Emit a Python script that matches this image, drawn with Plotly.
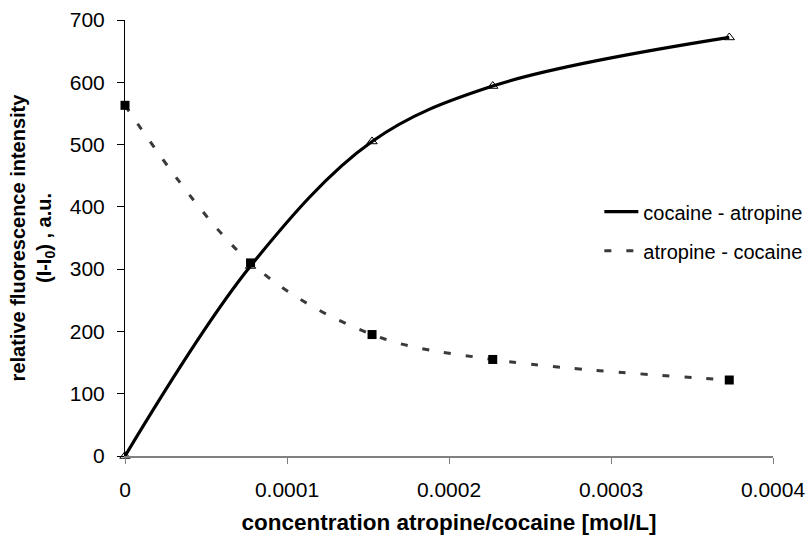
import plotly.graph_objects as go

# concentration [mol/L]
conc = [0.0, 0.0000775, 0.0001525, 0.000227, 0.000373]
# cocaine - atropine (open triangles, solid line)
coc_atr = [0, 305, 505, 594, 672]
# atropine - cocaine (filled squares, dashed line)
atr_coc = [563, 310, 195, 155, 122]

x_ticks = [0, 0.0001, 0.0002, 0.0003, 0.0004]
x_ticktext = ["0", "0.0001", "0.0002", "0.0003", "0.0004"]
y_ticks = [0, 100, 200, 300, 400, 500, 600, 700]

FONT = "Liberation Sans, Arial, sans-serif"

fig = go.Figure()

fig.add_trace(go.Scatter(
    x=conc, y=coc_atr, mode="lines", name="cocaine - atropine",
    line=dict(color="black", width=3.2, shape="spline", smoothing=1.0),
    legendgroup="a",
))
fig.add_trace(go.Scatter(
    x=conc, y=coc_atr, mode="markers", showlegend=False, cliponaxis=False,
    marker=dict(symbol="triangle-up-open", size=9, color="black", line=dict(width=1)),
))
fig.add_trace(go.Scatter(
    x=conc, y=atr_coc, mode="lines", name="atropine - cocaine",
    line=dict(color="#3a3a3a", width=3, shape="spline", smoothing=1.0, dash="7px,15px"),
    legendgroup="b",
))
fig.add_trace(go.Scatter(
    x=conc, y=atr_coc, mode="markers", showlegend=False, cliponaxis=False,
    marker=dict(symbol="square", size=9, color="black"),
))

fig.update_layout(
    width=810, height=542,
    margin=dict(l=125, r=37, t=20, b=86, autoexpand=False),
    paper_bgcolor="white", plot_bgcolor="white",
    font=dict(family=FONT, size=20, color="black"),
    showlegend=True,
    legend=dict(
        x=0.732, y=0.605, xanchor="left", yanchor="top",
        bgcolor="rgba(0,0,0,0)", font=dict(size=20),
        tracegroupgap=10, traceorder="grouped",
        itemwidth=34,
    ),
    xaxis=dict(
        range=[0, 0.0004], tickvals=x_ticks, ticktext=x_ticktext,
        showgrid=False, zeroline=False, automargin=False,
        showline=True, linecolor="#808080", linewidth=1.5,
        ticks="outside", ticklen=6, tickcolor="#808080", tickwidth=1,
        tickfont=dict(size=21), ticklabelstandoff=8,
        title=dict(text="<b>concentration atropine/cocaine [mol/L]</b>",
                   font=dict(size=22.5), standoff=14),
    ),
    yaxis=dict(
        range=[0, 700], tickvals=y_ticks,
        showgrid=False, zeroline=False, automargin=False,
        showline=True, linecolor="black", linewidth=1,
        ticks="outside", ticklen=7, tickcolor="black", tickwidth=1,
        tickfont=dict(size=21), ticklabelstandoff=8,
        title=dict(text="<b>relative fluorescence intensity<br>(I-I<sub>0</sub>) , a.u.</b>",
                   font=dict(size=20), standoff=12),
    ),
)

fig.write_html("out.html")
